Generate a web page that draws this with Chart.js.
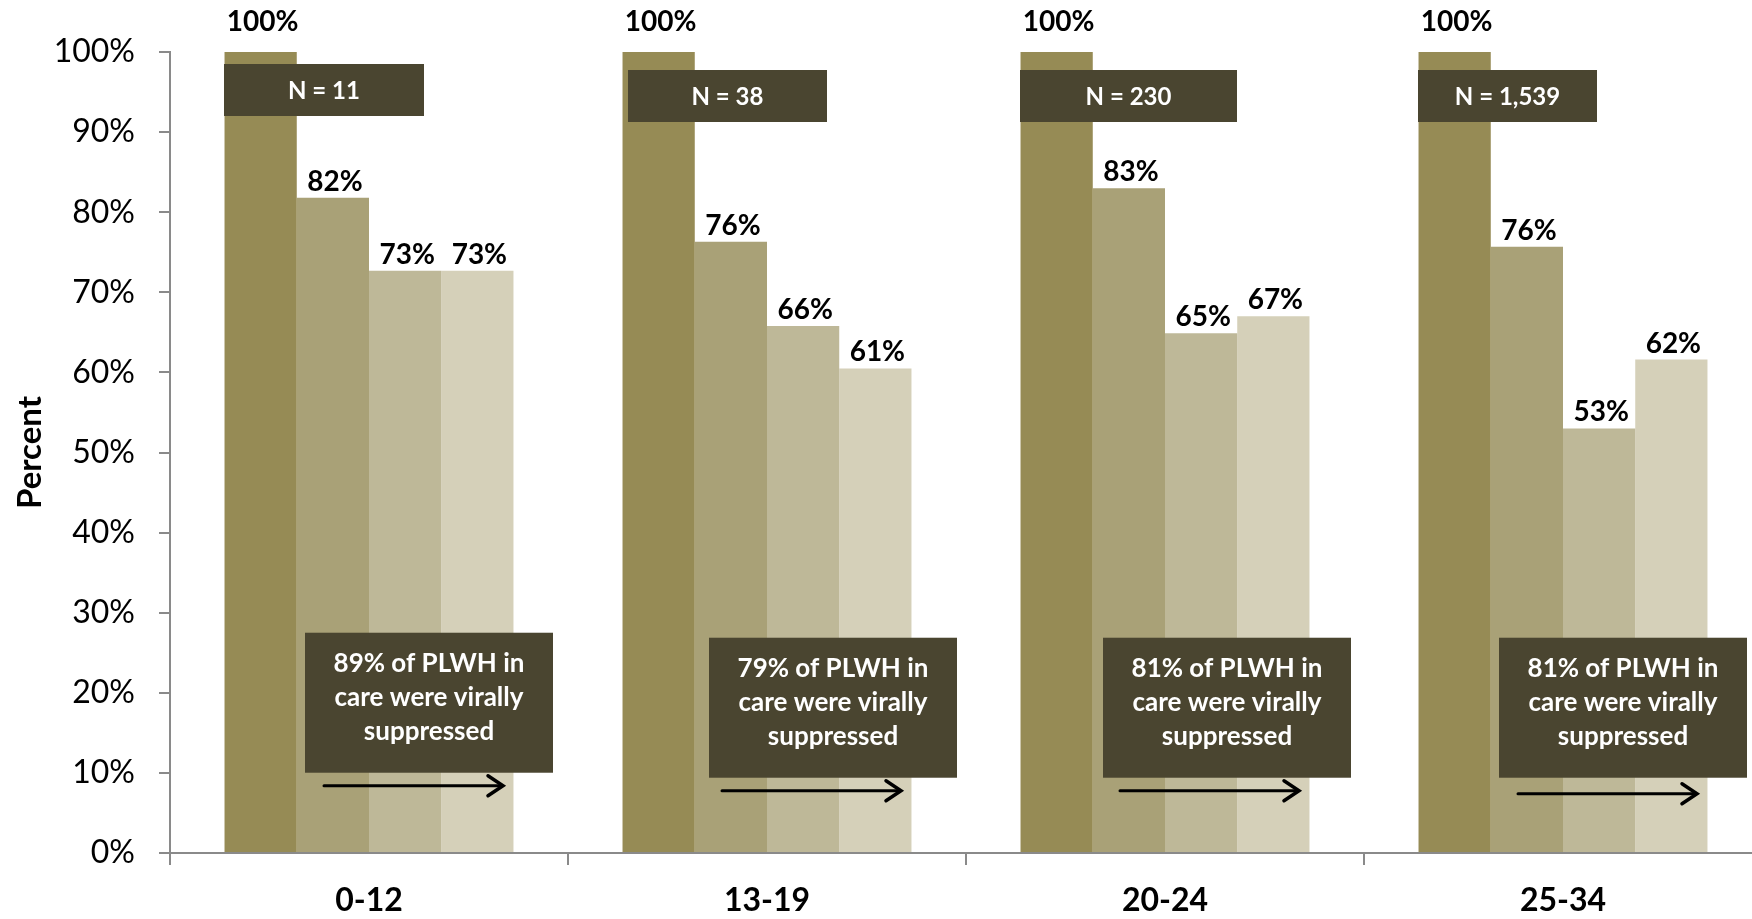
<!DOCTYPE html>
<html>
<head>
<meta charset="utf-8">
<script src="https://cdn.jsdelivr.net/npm/chart.js@4/dist/chart.umd.min.js"></script>
<style>
	html, body { margin: 0; padding: 0; background: #fff; overflow: hidden; }
	#wrap { width: 1762px; height: 919px; }
</style>
</head>
<body>
<div id="wrap"><canvas id="chart-suppression"></canvas></div>
<script>

/* Data */

var ageGroups = [ "0-12", "13-19", "20-24", "25-34" ];
var seriesNames = [ "PLWH", "Received care", "Retained in care", "Virally suppressed" ];
var plwh = [ 100, 100, 100, 100 ];
var receivedCare = [ 81.8, 76.3, 83.0, 75.7 ];
var retainedCare = [ 72.7, 65.8, 64.9, 53.0 ];
var suppressed = [ 72.7, 60.5, 67.0, 61.6 ];
var yTicks = [ 0, 10, 20, 30, 40, 50, 60, 70, 80, 90, 100 ];
var groupSizes = [ "N = 11", "N = 38", "N = 230", "N = 1,539" ];
var inCareSuppressed = [ 89, 79, 81, 81 ];

/* Layout of the boxes, per group */

var nBoxWidth = [ 200, 199, 217, 179 ];
var nBoxShift = [ 0, 6, 0, 0 ];
var nBoxDrop = [ 12, 18, 18, 18 ];
var noteShift = [ 0, 6, 2, 0 ];
var noteDrop = [ 0, 5, 5, 5 ];

var barColors = [ '#968b55', '#a9a177', '#beb898', '#d5d0b9' ];
var boxColor = '#4a4530';
var axisColor = '#8a8a8a';

Chart.defaults.font.family = 'Lato, "Open Sans", sans-serif';
Chart.defaults.color = '#000';

/* Value labels over the bars */

var valueLabels = {
	id: 'valueLabels',
	afterDatasetsDraw: function( chart ) {
		var ctx = chart.ctx;
		ctx.save();
		ctx.font = 'bold 28px Lato';
		ctx.fillStyle = '#000';
		ctx.textAlign = 'center';
		ctx.textBaseline = 'alphabetic';
		chart.data.datasets.forEach(function( ds, d ) {
			chart.getDatasetMeta( d ).data.forEach(function( bar, i ) {
				var v = ds.data[i];
				var lift = v >= 100 ? 21 : 7;
				ctx.fillText( Math.round( v ) + '%', bar.x + 2, bar.y - lift );
			});
		});
		ctx.restore();
	}
};

/* N boxes, notes and arrows */

var notes = {
	id: 'notes',
	afterDatasetsDraw: function( chart ) {
		var ctx = chart.ctx;
		var x = chart.scales.x, y = chart.scales.y;
		var top = y.getPixelForValue( 100 );
		ctx.save();
		ageGroups.forEach(function( g, i ) {
			var cx = x.getPixelForValue( i );

			// N box
			var nx = cx - 145 + nBoxShift[i], ny = top + nBoxDrop[i];
			ctx.fillStyle = boxColor;
			ctx.fillRect( nx, ny, nBoxWidth[i], 52 );
			ctx.fillStyle = '#fff';
			ctx.font = 'bold 24px Lato';
			ctx.textAlign = 'center';
			ctx.textBaseline = 'middle';
			ctx.fillText( groupSizes[i], nx + nBoxWidth[i] / 2, ny + 27 );

			// note box
			var bx = cx - 64 + noteShift[i], by = y.getPixelForValue( 27.5 ) + noteDrop[i];
			var bw = 248, bh = 140;
			ctx.fillStyle = boxColor;
			ctx.fillRect( bx, by, bw, bh );
			ctx.fillStyle = '#fff';
			ctx.font = 'bold 26px Lato';
			var lines = [ inCareSuppressed[i] + '% of PLWH in', 'care were virally', 'suppressed' ];
			lines.forEach(function( t, k ) {
				ctx.fillText( t, bx + bw / 2, by + 31 + k * 34 );
			});

			// arrow
			var ay = by + bh + 13 + ( i == 3 ? 3 : 0 );
			var ax0 = cx - 45, ax1 = cx + 134;
			ctx.strokeStyle = '#000';
			ctx.lineWidth = 3;
			ctx.lineCap = 'round';
			ctx.beginPath();
			ctx.moveTo( ax0, ay );
			ctx.lineTo( ax1 - 2, ay );
			ctx.stroke();
			ctx.lineWidth = 3.5;
			ctx.lineJoin = 'miter';
			ctx.beginPath();
			ctx.moveTo( ax1 - 15, ay - 10 );
			ctx.lineTo( ax1, ay );
			ctx.lineTo( ax1 - 15, ay + 10 );
			ctx.stroke();
		});
		ctx.restore();
	}
};

var series = [ plwh, receivedCare, retainedCare, suppressed ];

var ctxsup = document.getElementById("chart-suppression").getContext('2d');
var myChart = new Chart(ctxsup, {
	type: 'bar',
	data: {
		labels: ageGroups,
		datasets: series.map(function( s, k ) {
			return {
				label: seriesNames[k],
				data: s,
				backgroundColor: barColors[k],
				borderWidth: 0,
				categoryPercentage: 0.726,
				barPercentage: 1.0
			};
		})
	},
	options: {
		responsive: true,
		maintainAspectRatio: false,
		animation: false,
		layout: { padding: { top: 52, left: 0, right: 0, bottom: 0 } },
		plugins: {
			legend: { display: false },
			tooltip: { enabled: false }
		},
		scales: {
			x: {
				grid: {
					offset: true,
					drawOnChartArea: false,
					tickLength: 12,
					color: axisColor,
					lineWidth: 2
				},
				border: { color: axisColor, width: 2 },
				ticks: {
					font: { size: 32, weight: 'bold' },
					color: '#000',
					padding: 16
				},
				afterFit: function( scale ) { scale.height = 66; }
			},
			y: {
				min: 0,
				max: 100,
				afterBuildTicks: function( scale ) {
					scale.ticks = yTicks.map(function( v ) { return { value: v }; });
				},
				grid: {
					drawOnChartArea: false,
					tickLength: 11,
					color: axisColor,
					lineWidth: 2
				},
				border: { color: axisColor, width: 2 },
				ticks: {
					font: { size: 32 },
					color: '#000',
					padding: 24,
					callback: function( v ) { return v + '%'; }
				},
				title: {
					display: true,
					text: 'Percent',
					font: { size: 33, weight: 'bold' },
					color: '#000',
					padding: { top: 11, bottom: 0 }
				},
				afterFit: function( scale ) { scale.width = 170; }
			}
		}
	},
	plugins: [ valueLabels, notes ]
});

</script>
</body>
</html>
